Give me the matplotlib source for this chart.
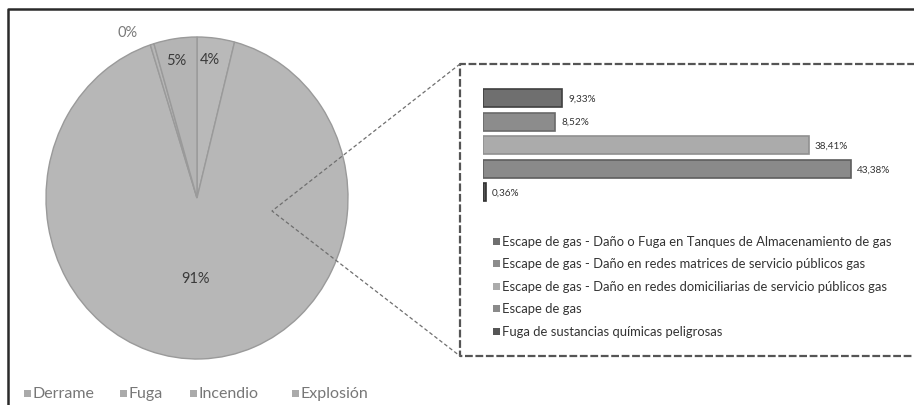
import matplotlib
matplotlib.use("Agg")
import matplotlib.pyplot as plt
from matplotlib.patches import Rectangle

# ---- data ----
pie_labels = ["Derrame", "Fuga", "Incendio", "Explosión"]
pie_values = [0.4, 4.6, 91.0, 4.0]
pie_texts = ["0%", "5%", "91%", "4%"]

bar_labels = [
    "Escape de gas - Daño o Fuga en Tanques de Almacenamiento de gas",
    "Escape de gas - Daño en redes matrices de servicio públicos gas",
    "Escape de gas - Daño en redes domiciliarias de servicio públicos gas",
    "Escape de gas",
    "Fuga de sustancias químicas peligrosas",
]
bar_values = [9.33, 8.52, 38.41, 43.38, 0.36]
bar_texts = ["9,33%", "8,52%", "38,41%", "43,38%", "0,36%"]

W, H = 914, 406
fig = plt.figure(figsize=(W / 100, H / 100), dpi=100)
plt.rcParams['font.family'] = ['Lato', 'DejaVu Sans']

def px_axes(x0, y0, x1, y1, **kw):
    return fig.add_axes([x0 / W, 1 - y1 / H, (x1 - x0) / W, (y1 - y0) / H], **kw)

# ---- pie ----
pie_colors = ['#b6b6b6', '#b4b4b4', '#b7b7b7', '#b9b9b9']
order = [3, 2, 0, 1]  # clockwise from top: Explosión, Incendio, Derrame, Fuga
cx, cy, rx, ry = 197, 199, 151, 161
pax = px_axes(cx - rx, cy - ry, cx + rx, cy + ry)
wedges, _ = pax.pie([pie_values[i] for i in order], colors=[pie_colors[i] for i in order],
                    startangle=90, counterclock=False, radius=1,
                    wedgeprops=dict(edgecolor='#9a9a9a', linewidth=1.0))
pax.set_aspect('auto')
pax.set_xlim(-1, 1); pax.set_ylim(-1, 1)
pax.axis('off')

# ---- bars ----
bar_colors = ['#6f6f6f', '#8c8c8c', '#ababab', '#8a8a8a', '#555555']
edge_colors = ['#3f3f3f', '#6a6a6a', '#909090', '#5e5e5e', '#333333']
scale = 8.48  # px per percent
bx0 = 483
pitch = 23.6
y_top = 99 - pitch / 2
bax = px_axes(bx0, y_top, bx0 + 400, y_top + 5 * pitch)
ypos = list(range(len(bar_values)))
bax.barh(ypos, bar_values, height=0.76, color=bar_colors, edgecolor=edge_colors, linewidth=1.2)
bax.set_xlim(0, 400 / scale)
bax.set_ylim(4.5, -0.5)
bax.axis('off')
for yv, v, t in zip(ypos, bar_values, bar_texts):
    bax.text(v + 6 / scale, yv, t, ha='left', va='center', fontsize=7.2, color='#333333')

# overlay on top for frame, connectors, labels, legends
ov = px_axes(0, 0, W, H)
ov.set_xlim(0, W); ov.set_ylim(H, 0); ov.axis('off')
ov.patch.set_alpha(0)
ov.plot([8, 8, W + 5], [H + 5, 10, 10], color='#2a2a2a', lw=1.8, solid_capstyle='butt')

label_pos = {0: (128, 33), 1: (176, 61), 2: (196, 279), 3: (210, 60)}
label_col = {0: '#7a7a7a', 1: '#3a3a3a', 2: '#3a3a3a', 3: '#3a3a3a'}
for i, t in enumerate(pie_texts):
    x, y = label_pos[i]
    ov.text(x, y, t, ha='center', va='center', fontsize=10.5, color=label_col[i])

# bottom legend
leg_x = [24, 120, 190, 292]
for lab, x in zip(pie_labels, leg_x):
    ov.add_patch(Rectangle((x, 390.5), 7, 7, color='#aaaaaa', lw=0))
    ov.text(x + 9, 394, lab, ha='left', va='center', fontsize=11.5, color='#777777')

# dashed box + connectors
ov.plot([W + 5, 460, 460, W + 5], [65, 65, 357, 357], color='#555555', lw=1.6,
        linestyle=(0, (3.5, 1.2)))
ov.plot([460, 272, 460], [65, 212, 357], color='#6f6f6f', lw=0.9, linestyle=(0, (3, 2)))

# legend inside box
leg_y = [242, 264, 287, 309, 332]
for lab, y, c in zip(bar_labels, leg_y, bar_colors):
    ov.add_patch(Rectangle((493, y - 3.5), 7, 7, color=c, lw=0))
    ov.text(502, y, lab, ha='left', va='center', fontsize=9.4, color='#333333')

fig.savefig('out.png', dpi=100)
